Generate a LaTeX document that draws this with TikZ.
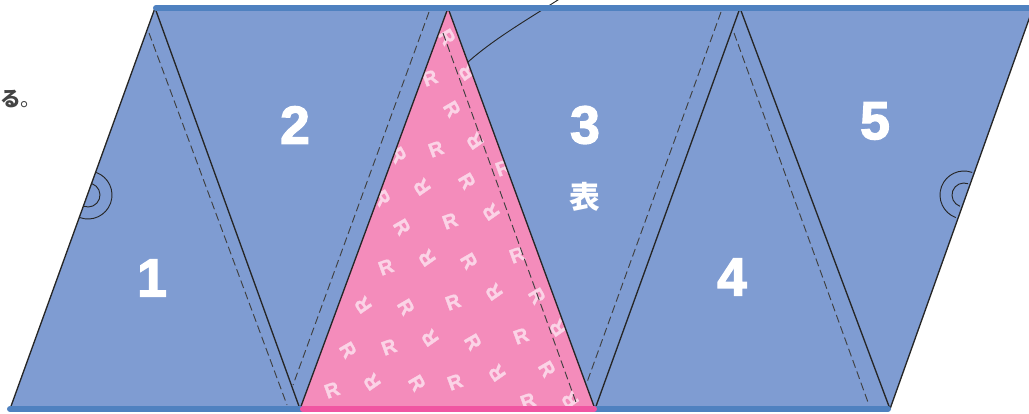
\documentclass[tikz,border=0pt]{standalone}
\usepackage{fontspec}
\setmainfont{Liberation Sans}
\newfontfamily\numfont[BoldFeatures={FakeBold=2.6}]{Liberation Sans}
\newfontfamily\markfont[BoldFeatures={FakeBold=1.5}]{Liberation Sans}
\newfontfamily\cjk{Noto Sans CJK JP}
\definecolor{flagblue}{HTML}{7F9CD2}
\definecolor{ropeblue}{HTML}{4F81C0}
\definecolor{flagpink}{HTML}{F48CBB}
\definecolor{ropepink}{HTML}{F056A2}
\definecolor{letterpink}{HTML}{FBD3E6}
\definecolor{notegray}{HTML}{444444}

\begin{document}
\begin{tikzpicture}[x=0.75pt,y=-0.75pt]
 \tikzstyle{num} = [text=white, font=\numfont\fontsize{40}{40}\selectfont\bfseries, inner sep=0pt];
 \tikzstyle{letter} = [text=letterpink, font=\markfont\fontsize{15}{15}\selectfont\bfseries, inner sep=0pt];
 \tikzstyle{C} = [color=black!85, line width=1pt];
 \tikzstyle{D} = [color=black!75, line width=.7pt, dash pattern=on 6pt off 3pt];
 \tikzstyle{fine} = [color=black!85, line width=.7pt];
 \tikzstyle{rope} = [line width=4.5pt, line cap=round];

 \clip (0,0) rectangle (1029,414);

 \fill [flagblue] (155,8) -- (1033,8) -- (890,409) -- (10,409) -- cycle;

 % printed cloth
 \begin{scope}
  \clip (448,8) -- (595,409) -- (300,409) -- cycle;
  \fill [flagpink] (290,0) rectangle (600,414);
  \foreach \x/\y [count=\i] in {332/390,455/382,389/347,521/336,386/267,517/255,450/221,453/302,430/78,436/149,503/168,528/401}
   \node (ra\i) [letter, rotate=20] at (\x,\y) {R};
  \foreach \x/\y [count=\i] in {372/382,497/373,570/400,430/338,558/328,363/305,494/292,427/258,491/212,422/187,467/72,475/141}
   \node (rb\i) [letter, rotate=125] at (\x,\y) {R};
  \foreach \x/\y [count=\i] in {417/383,547/369,348/350,473/342,406/307,537/296,469/261,402/227,382/198,467/181,398/155,452/109,447/37}
   \node (rc\i) [letter, rotate=-60] at (\x,\y) {R};
 \end{scope}

 \draw [C] (155,8) -- (10,409);
 \draw [C] (1033,8) -- (890,409);
 \draw [C] (155,8) -- (300,409);
 \draw [C] (448,8) -- (300,409);
 \draw [C] (448,8) -- (595,409);
 \draw [C] (740,8) -- (595,409);
 \draw [C] (740,8) -- (890,409);

 \draw [D] (149,33) -- (287,405);
 \draw [D] (429,12) -- (293,385);
 \draw [D] (443,33) -- (577,405);
 \draw [D] (721,12) -- (586,385);
 \draw [D] (734,33) -- (869,405);

 % snap halves
 \coordinate (snapa) at (88,195);
 \coordinate (snapb) at (964,195);
 \draw [fine] ([shift={(-70:24)}]snapa) arc (-70:110:24);
 \draw [fine] ([shift={(-70:12)}]snapa) arc (-70:110:12);
 \draw [fine] ([shift={(-70:24)}]snapb) arc (-70:-250:24);
 \draw [fine] ([shift={(-70:12)}]snapb) arc (-70:-250:12);

 \coordinate (leader) at (468,62);
 \coordinate (leaderend) at (561,-2);
 \draw [fine] (leader) .. controls (495,38) and (530,18) .. (leaderend);

 \draw [rope, ropeblue] (156,8) -- (1040,8);
 \draw [rope, ropeblue] (10,409) -- (888,409);
 \draw [rope, ropepink] (303,409) -- (594,409);

 \node (one) [num] at (152,278) {1};
 \node (two) [num] at (295,125) {2};
 \node (three) [num] at (585,125) {3};
 \node (four) [num] at (732,277) {4};
 \node (five) [num] at (875,121) {5};
 \node (face) [text=white, inner sep=0pt, font=\cjk\fontsize{23}{23}\selectfont\bfseries] at (585,197) {表};
 \node (note) [text=notegray, inner sep=0pt, anchor=west, font=\cjk\fontsize{15.5}{15.5}\selectfont] at (0,99) {\bfseries る\mdseries 。};
\end{tikzpicture}
\end{document}
